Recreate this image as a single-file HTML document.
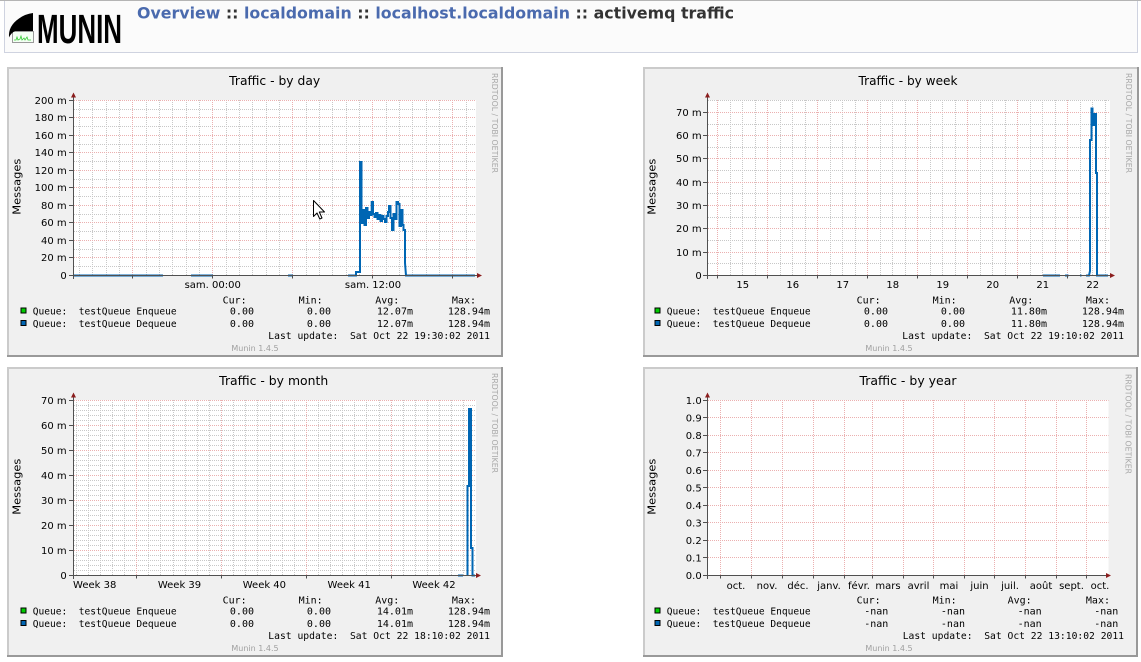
<!DOCTYPE html>
<html><head><meta charset="utf-8"><style>
html,body{margin:0;padding:0;background:#fff;width:1141px;height:662px;overflow:hidden}
svg{display:block}
.t{font-family:"DejaVu Sans","Liberation Sans",sans-serif;fill:#000}
.lab{font-family:"DejaVu Sans","Liberation Sans",sans-serif;font-size:10px;fill:#000}
.m{font-family:"DejaVu Sans Mono","Liberation Mono",monospace;font-size:10px;fill:#000;white-space:pre}
.m text{white-space:pre}
.gm{stroke:#c8c8c8;stroke-width:1;stroke-dasharray:1 1;fill:none}
.gM{stroke:#ebb0b0;stroke-width:1;stroke-dasharray:1 1;fill:none}
.ax{stroke:#505050;stroke-width:1;fill:none}
.ar{fill:#8b1e1e}
.d{stroke:#0066b3;stroke-width:2;fill:none;stroke-linejoin:miter}
.rr{font-family:"DejaVu Sans","Liberation Sans",sans-serif;font-size:8px;fill:#a8a8a8}
.mu{font-family:"DejaVu Sans","Liberation Sans",sans-serif;font-size:8px;fill:#a0a0a0}
</style></head><body>
<svg width="1141" height="662" viewBox="0 0 1141 662" xmlns="http://www.w3.org/2000/svg">
<!-- header -->
<rect x="4.5" y="0.5" width="1133" height="52" fill="#fbfbfb" stroke="#cfd3e0"/>
<line x1="0" y1="0.5" x2="1141" y2="0.5" stroke="#b4b4b4"/>
<rect x="12.5" y="31.5" width="21" height="11" fill="#f4fff4" stroke="#9a9a9a"/>
<polyline points="14,40 16,40 17,37 18,40 20,39 21,36 22,40 24,38 25,40 27,37 28,40 31,40" fill="none" stroke="#33cc33" stroke-width="0.8"/>
<path d="M33,13 L33,31 L15,31 Q11,33 9,37.5 Q8,26 19,18.5 Q25,14 33,13 Z" fill="#000"/>
<text x="37" y="43" font-family="Liberation Sans, DejaVu Sans, sans-serif" font-weight="bold" font-size="41" textLength="85" lengthAdjust="spacingAndGlyphs" fill="#000">MUNIN</text>
<text x="137" y="18.5" font-family="DejaVu Sans, Liberation Sans, sans-serif" font-weight="bold" font-size="16" textLength="597" lengthAdjust="spacingAndGlyphs" style="white-space:pre"><tspan fill="#4a6aae">Overview</tspan><tspan fill="#333"> :: </tspan><tspan fill="#4a6aae">localdomain</tspan><tspan fill="#333"> :: </tspan><tspan fill="#4a6aae">localhost.localdomain</tspan><tspan fill="#333"> :: activemq traffic</tspan></text>

<!-- ================= DAY PANEL ================= -->
<rect x="7" y="67" width="496" height="290" fill="#f0f0f0"/>
<path d="M7 68H503M8 67V357" stroke="#cbcbcb" stroke-width="2"/>
<path d="M7 356H503M502 67V357" stroke="#999" stroke-width="2"/>
<rect x="74" y="100" width="402" height="175.5" fill="#fff"/>
<path class="gm" d="M74 266.5H476M74 249.5H476M74 231.5H476M74 214.5H476M74 196.5H476M74 179.5H476M74 161.5H476M74 144.5H476M74 126.5H476M74 109.5H476"/>
<path class="gm" d="M79.5 100V275M92.5 100V275M106.5 100V275M119.5 100V275M146.5 100V275M159.5 100V275M172.5 100V275M186.5 100V275M199.5 100V275M226.5 100V275M239.5 100V275M252.5 100V275M266.5 100V275M279.5 100V275M306.5 100V275M319.5 100V275M332.5 100V275M346.5 100V275M359.5 100V275M386.5 100V275M399.5 100V275M412.5 100V275M426.5 100V275M439.5 100V275M466.5 100V275"/>
<path class="gM" d="M74 257.5H476M74 240.5H476M74 222.5H476M74 205.5H476M74 187.5H476M74 170.5H476M74 152.5H476M74 135.5H476M74 117.5H476M74 100.5H476"/>
<path class="gM" d="M132.5 100V275M212.5 100V275M292.5 100V275M372.5 100V275M452.5 100V275"/>
<text class="t" x="274.7" y="85" font-size="12" text-anchor="middle" textLength="91" lengthAdjust="spacingAndGlyphs">Traffic - by day</text>
<text class="t" font-size="11" text-anchor="middle" transform="translate(16.7,186.7) rotate(-90)" y="4" textLength="56" lengthAdjust="spacingAndGlyphs">Messages</text>
<text class="rr" text-anchor="middle" transform="translate(495,123) rotate(90)" y="3" textLength="100" lengthAdjust="spacingAndGlyphs">RRDTOOL / TOBI OETIKER</text>
<g class="lab" text-anchor="end">
<text x="66.7" y="279">0</text><text x="66.7" y="261">20 m</text><text x="66.7" y="244">40 m</text><text x="66.7" y="226">60 m</text><text x="66.7" y="209">80 m</text><text x="66.7" y="191">100 m</text><text x="66.7" y="174">120 m</text><text x="66.7" y="156">140 m</text><text x="66.7" y="139">160 m</text><text x="66.7" y="121">180 m</text><text x="66.7" y="104">200 m</text>
</g>
<g class="lab" text-anchor="middle"><text x="212.7" y="288">sam. 00:00</text><text x="373" y="288">sam. 12:00</text></g>
<path class="d" d="M74,275.5 H163 M191,275.5 H213 M288,275.5 H293 M348,275.5 H356 V272 H360 V162 H361.5 V223 H363 V210 H364.5 V225 H366 V208 H367.5 V218 H369 V212 H370.5 V215 H371.7 V202 H373 V214 H374.5 V217 H376 V213 H377.5 V219 H379 V215 H380.5 V221 H382 V216 H383.5 V219 H385 V222 H386.5 V216 H388 V212 H389 V206 H390.5 V218 H392 V230 H393.5 V214 H395 V219 H396.5 V202 H398 V204 H399.5 V226 H401 V210 H402.5 V225 H403.5 V230 H405 V263 L406,275.5 H475"/>
<path class="ax" d="M73.5 279V96M69 275.5H478M69 257.5H73.5M69 240.5H73.5M69 222.5H73.5M69 205.5H73.5M69 187.5H73.5M69 170.5H73.5M69 152.5H73.5M69 135.5H73.5M69 117.5H73.5M69 100.5H73.5M132.5 275.5v3M212.5 275.5v3M292.5 275.5v3M372.5 275.5v3M452.5 275.5v3"/>
<polygon class="ar" points="71,97.5 76,97.5 73.5,92.5"/>
<polygon class="ar" points="477,273 477,278 482,275.5"/>
<polygon points="313.5,200.5 313.5,216.5 317,213 319.8,219 322,218 319.3,212 324.5,212" fill="#fff" stroke="#000" stroke-width="1" stroke-linejoin="round"/>
<!-- legend day -->
<g class="m">
<text x="246.7" y="303.5" text-anchor="end">Cur:</text><text x="322.7" y="303.5" text-anchor="end">Min:</text><text x="399.3" y="303.5" text-anchor="end">Avg:</text><text x="476" y="303.5" text-anchor="end">Max:</text>
<text x="32.7" y="314.5" textLength="144" lengthAdjust="spacingAndGlyphs">Queue:  testQueue Enqueue</text>
<text x="254" y="314.5" text-anchor="end">0.00</text><text x="331" y="314.5" text-anchor="end">0.00</text><text x="413" y="314.5" text-anchor="end">12.07m</text><text x="490" y="314.5" text-anchor="end">128.94m</text>
<text x="32.7" y="327" textLength="144" lengthAdjust="spacingAndGlyphs">Queue:  testQueue Dequeue</text>
<text x="254" y="327" text-anchor="end">0.00</text><text x="331" y="327" text-anchor="end">0.00</text><text x="413" y="327" text-anchor="end">12.07m</text><text x="490" y="327" text-anchor="end">128.94m</text>
<text x="268.3" y="339" textLength="221.7" lengthAdjust="spacingAndGlyphs">Last update:  Sat Oct 22 19:30:02 2011</text>
</g>
<rect x="21" y="308" width="5" height="5" fill="#00cc00" stroke="#000" stroke-width="1"/>
<rect x="21" y="320.5" width="5" height="5" fill="#0066b3" stroke="#000" stroke-width="1"/>
<text class="mu" x="255" y="351" text-anchor="middle">Munin 1.4.5</text>

<!-- ================= WEEK PANEL ================= -->
<rect x="643" y="67" width="496" height="290" fill="#f0f0f0"/>
<path d="M643 68H1139M644 67V357" stroke="#cbcbcb" stroke-width="2"/>
<path d="M643 356H1139M1138 67V357" stroke="#999" stroke-width="2"/>
<rect x="708" y="100" width="402" height="175.5" fill="#fff"/>
<path class="gm" d="M708 263.5H1110M708 240.5H1110M708 217.5H1110M708 193.5H1110M708 170.5H1110M708 147.5H1110M708 124.5H1110M708 100.5H1110"/>
<path class="gm" d="M730.5 100V275M742.5 100V275M755.5 100V275M780.5 100V275M792.5 100V275M805.5 100V275M830.5 100V275M842.5 100V275M855.5 100V275M880.5 100V275M892.5 100V275M905.5 100V275M930.5 100V275M942.5 100V275M955.5 100V275M980.5 100V275M992.5 100V275M1005.5 100V275M1030.5 100V275M1042.5 100V275M1055.5 100V275M1080.5 100V275M1092.5 100V275M1105.5 100V275"/>
<path class="gM" d="M708 252.5H1110M708 228.5H1110M708 205.5H1110M708 182.5H1110M708 158.5H1110M708 135.5H1110M708 112.5H1110"/>
<path class="gM" d="M717.5 100V275M767.5 100V275M817.5 100V275M867.5 100V275M917.5 100V275M967.5 100V275M1017.5 100V275M1067.5 100V275"/>
<text class="t" x="908" y="85" font-size="12" text-anchor="middle" textLength="99" lengthAdjust="spacingAndGlyphs">Traffic - by week</text>
<text class="t" font-size="11" text-anchor="middle" transform="translate(651.7,186.7) rotate(-90)" y="4" textLength="56" lengthAdjust="spacingAndGlyphs">Messages</text>
<text class="rr" text-anchor="middle" transform="translate(1129,123) rotate(90)" y="3" textLength="100" lengthAdjust="spacingAndGlyphs">RRDTOOL / TOBI OETIKER</text>
<g class="lab" text-anchor="end">
<text x="701.7" y="279">0</text><text x="701.7" y="256">10 m</text><text x="701.7" y="232">20 m</text><text x="701.7" y="209">30 m</text><text x="701.7" y="186">40 m</text><text x="701.7" y="162">50 m</text><text x="701.7" y="139">60 m</text><text x="701.7" y="116">70 m</text>
</g>
<g class="lab" text-anchor="middle"><text x="742.7" y="288">15</text><text x="792.7" y="288">16</text><text x="842.7" y="288">17</text><text x="892.7" y="288">18</text><text x="942.7" y="288">19</text><text x="992.7" y="288">20</text><text x="1042.7" y="288">21</text><text x="1092.7" y="288">22</text></g>
<path class="d" d="M1043,275.5 H1060 M1065,275.5 H1068.5 M1080,275.5 H1081.5 M1086,275.5 H1089 L1090,271 V140 H1091.5 V108.5 H1092.5 V120 H1093.5 V125 H1094.5 V114 H1096 V173 H1097 V275.5 H1108"/>
<path class="ax" d="M707.5 279V96M703 275.5H1111M703 252.5H707.5M703 228.5H707.5M703 205.5H707.5M703 182.5H707.5M703 158.5H707.5M703 135.5H707.5M703 112.5H707.5M717.5 275.5v3M767.5 275.5v3M817.5 275.5v3M867.5 275.5v3M917.5 275.5v3M967.5 275.5v3M1017.5 275.5v3M1067.5 275.5v3"/>
<polygon class="ar" points="705,97.5 710,97.5 707.5,92.5"/>
<polygon class="ar" points="1110,273 1110,278 1115,275.5"/>
<g class="m">
<text x="880.7" y="303.5" text-anchor="end">Cur:</text><text x="956.7" y="303.5" text-anchor="end">Min:</text><text x="1033.3" y="303.5" text-anchor="end">Avg:</text><text x="1110" y="303.5" text-anchor="end">Max:</text>
<text x="666.7" y="314.5" textLength="144" lengthAdjust="spacingAndGlyphs">Queue:  testQueue Enqueue</text>
<text x="888" y="314.5" text-anchor="end">0.00</text><text x="965" y="314.5" text-anchor="end">0.00</text><text x="1047" y="314.5" text-anchor="end">11.80m</text><text x="1124" y="314.5" text-anchor="end">128.94m</text>
<text x="666.7" y="327" textLength="144" lengthAdjust="spacingAndGlyphs">Queue:  testQueue Dequeue</text>
<text x="888" y="327" text-anchor="end">0.00</text><text x="965" y="327" text-anchor="end">0.00</text><text x="1047" y="327" text-anchor="end">11.80m</text><text x="1124" y="327" text-anchor="end">128.94m</text>
<text x="902.3" y="339" textLength="221.7" lengthAdjust="spacingAndGlyphs">Last update:  Sat Oct 22 19:10:02 2011</text>
</g>
<rect x="655" y="308" width="5" height="5" fill="#00cc00" stroke="#000" stroke-width="1"/>
<rect x="655" y="320.5" width="5" height="5" fill="#0066b3" stroke="#000" stroke-width="1"/>
<text class="mu" x="889" y="351" text-anchor="middle">Munin 1.4.5</text>

<!-- ================= MONTH PANEL ================= -->
<rect x="7" y="367" width="496" height="290" fill="#f0f0f0"/>
<path d="M7 368H503M8 367V657" stroke="#cbcbcb" stroke-width="2"/>
<path d="M7 656H503M502 367V657" stroke="#999" stroke-width="2"/>
<rect x="74" y="400" width="402" height="175.5" fill="#fff"/>
<path class="gm" d="M74 570.5H476M74 565.5H476M74 560.5H476M74 555.5H476M74 545.5H476M74 540.5H476M74 535.5H476M74 530.5H476M74 520.5H476M74 515.5H476M74 510.5H476M74 505.5H476M74 495.5H476M74 490.5H476M74 485.5H476M74 480.5H476M74 470.5H476M74 465.5H476M74 460.5H476M74 455.5H476M74 445.5H476M74 440.5H476M74 435.5H476M74 430.5H476M74 420.5H476M74 415.5H476M74 410.5H476M74 405.5H476"/>
<path class="gm" d="M76.5 400V575M88.5 400V575M100.5 400V575M112.5 400V575M124.5 400V575M148.5 400V575M160.5 400V575M173.5 400V575M185.5 400V575M197.5 400V575M209.5 400V575M233.5 400V575M245.5 400V575M257.5 400V575M270.5 400V575M282.5 400V575M294.5 400V575M318.5 400V575M330.5 400V575M342.5 400V575M354.5 400V575M366.5 400V575M379.5 400V575M403.5 400V575M415.5 400V575M427.5 400V575M439.5 400V575M451.5 400V575M463.5 400V575"/>
<path class="gM" d="M74 550.5H476M74 525.5H476M74 500.5H476M74 475.5H476M74 450.5H476M74 425.5H476M74 400.5H476"/>
<path class="gM" d="M136.5 400V575M221.5 400V575M306.5 400V575M391.5 400V575"/>
<text class="t" x="273.7" y="385" font-size="12" text-anchor="middle" textLength="109" lengthAdjust="spacingAndGlyphs">Traffic - by month</text>
<text class="t" font-size="11" text-anchor="middle" transform="translate(16.7,486.7) rotate(-90)" y="4" textLength="56" lengthAdjust="spacingAndGlyphs">Messages</text>
<text class="rr" text-anchor="middle" transform="translate(495,423) rotate(90)" y="3" textLength="100" lengthAdjust="spacingAndGlyphs">RRDTOOL / TOBI OETIKER</text>
<g class="lab" text-anchor="end">
<text x="66.7" y="579">0</text><text x="66.7" y="554">10 m</text><text x="66.7" y="529">20 m</text><text x="66.7" y="504">30 m</text><text x="66.7" y="479">40 m</text><text x="66.7" y="454">50 m</text><text x="66.7" y="429">60 m</text><text x="66.7" y="404">70 m</text>
</g>
<g class="lab" text-anchor="middle"><text x="94.7" y="588">Week 38</text><text x="179.5" y="588">Week 39</text><text x="264.4" y="588">Week 40</text><text x="349.2" y="588">Week 41</text><text x="434" y="588">Week 42</text></g>
<path class="d" d="M458,575.5 H463 M467.5,575.5 V486 H469 V409 H471 V548 H472.5 V575.5 H475"/>
<path class="ax" d="M73.5 579V396M69 575.5H477M69 550.5H73.5M69 525.5H73.5M69 500.5H73.5M69 475.5H73.5M69 450.5H73.5M69 425.5H73.5M69 400.5H73.5M136.5 575.5v3M221.5 575.5v3M306.5 575.5v3M391.5 575.5v3"/>
<polygon class="ar" points="71,397.5 76,397.5 73.5,392.5"/>
<polygon class="ar" points="476,573 476,578 481,575.5"/>
<g class="m">
<text x="246.7" y="603.5" text-anchor="end">Cur:</text><text x="322.7" y="603.5" text-anchor="end">Min:</text><text x="399.3" y="603.5" text-anchor="end">Avg:</text><text x="476" y="603.5" text-anchor="end">Max:</text>
<text x="32.7" y="614.5" textLength="144" lengthAdjust="spacingAndGlyphs">Queue:  testQueue Enqueue</text>
<text x="254" y="614.5" text-anchor="end">0.00</text><text x="331" y="614.5" text-anchor="end">0.00</text><text x="413" y="614.5" text-anchor="end">14.01m</text><text x="490" y="614.5" text-anchor="end">128.94m</text>
<text x="32.7" y="627" textLength="144" lengthAdjust="spacingAndGlyphs">Queue:  testQueue Dequeue</text>
<text x="254" y="627" text-anchor="end">0.00</text><text x="331" y="627" text-anchor="end">0.00</text><text x="413" y="627" text-anchor="end">14.01m</text><text x="490" y="627" text-anchor="end">128.94m</text>
<text x="268.3" y="639" textLength="221.7" lengthAdjust="spacingAndGlyphs">Last update:  Sat Oct 22 18:10:02 2011</text>
</g>
<rect x="21" y="608" width="5" height="5" fill="#00cc00" stroke="#000" stroke-width="1"/>
<rect x="21" y="620.5" width="5" height="5" fill="#0066b3" stroke="#000" stroke-width="1"/>
<text class="mu" x="255" y="651" text-anchor="middle">Munin 1.4.5</text>

<!-- ================= YEAR PANEL ================= -->
<rect x="643" y="367" width="495" height="290" fill="#f0f0f0"/>
<path d="M643 368H1138M644 367V657" stroke="#cbcbcb" stroke-width="2"/>
<path d="M643 656H1138M1137 367V657" stroke="#999" stroke-width="2"/>
<rect x="708" y="400" width="400.5" height="175.5" fill="#fff"/>
<path class="gM" d="M708 557.5H1108.5M708 540.5H1108.5M708 522.5H1108.5M708 505.5H1108.5M708 487.5H1108.5M708 470.5H1108.5M708 452.5H1108.5M708 435.5H1108.5M708 417.5H1108.5M708 400.5H1108.5"/>
<path class="gM" d="M720.5 400V575M751.5 400V575M782.5 400V575M813.5 400V575M844.5 400V575M872.5 400V575M903.5 400V575M933.5 400V575M964.5 400V575M994.5 400V575M1025.5 400V575M1056.5 400V575M1086.5 400V575"/>
<text class="t" x="908" y="385" font-size="12" text-anchor="middle" textLength="97" lengthAdjust="spacingAndGlyphs">Traffic - by year</text>
<text class="t" font-size="11" text-anchor="middle" transform="translate(651.7,486.7) rotate(-90)" y="4" textLength="56" lengthAdjust="spacingAndGlyphs">Messages</text>
<text class="rr" text-anchor="middle" transform="translate(1128.5,424) rotate(90)" y="3" textLength="100" lengthAdjust="spacingAndGlyphs">RRDTOOL / TOBI OETIKER</text>
<g class="lab" text-anchor="end">
<text x="701.7" y="579">0.0</text><text x="701.7" y="561.5">0.1</text><text x="701.7" y="544">0.2</text><text x="701.7" y="526.5">0.3</text><text x="701.7" y="509">0.4</text><text x="701.7" y="491.5">0.5</text><text x="701.7" y="474">0.6</text><text x="701.7" y="456.5">0.7</text><text x="701.7" y="439">0.8</text><text x="701.7" y="421.5">0.9</text><text x="701.7" y="404">1.0</text>
</g>
<g class="lab" text-anchor="middle"><text x="736" y="589">oct.</text><text x="767" y="589">nov.</text><text x="798" y="589">déc.</text><text x="829" y="589">janv.</text><text x="859" y="589">févr.</text><text x="888" y="589">mars</text><text x="918.5" y="589">avril</text><text x="949" y="589">mai</text><text x="979.5" y="589">juin</text><text x="1010" y="589">juil.</text><text x="1041" y="589">août</text><text x="1071.5" y="589">sept.</text><text x="1100" y="589">oct.</text></g>
<path class="ax" d="M707.5 579V396M703 575.5H1107M703 557.5H707.5M703 540.5H707.5M703 522.5H707.5M703 505.5H707.5M703 487.5H707.5M703 470.5H707.5M703 452.5H707.5M703 435.5H707.5M703 417.5H707.5M703 400.5H707.5M720.5 575.5v3M751.5 575.5v3M782.5 575.5v3M813.5 575.5v3M844.5 575.5v3M872.5 575.5v3M903.5 575.5v3M933.5 575.5v3M964.5 575.5v3M994.5 575.5v3M1025.5 575.5v3M1056.5 575.5v3M1086.5 575.5v3"/>
<polygon class="ar" points="705,397.5 710,397.5 707.5,392.5"/>
<polygon class="ar" points="1106,573 1106,578 1111,575.5"/>
<g class="m">
<text x="880.7" y="603.5" text-anchor="end">Cur:</text><text x="956.7" y="603.5" text-anchor="end">Min:</text><text x="1031.7" y="603.5" text-anchor="end">Avg:</text><text x="1110" y="603.5" text-anchor="end">Max:</text>
<text x="666.7" y="614.5" textLength="144" lengthAdjust="spacingAndGlyphs">Queue:  testQueue Enqueue</text>
<text x="888.3" y="614.5" text-anchor="end">-nan</text><text x="965" y="614.5" text-anchor="end">-nan</text><text x="1041.7" y="614.5" text-anchor="end">-nan</text><text x="1118.3" y="614.5" text-anchor="end">-nan</text>
<text x="666.7" y="627" textLength="144" lengthAdjust="spacingAndGlyphs">Queue:  testQueue Dequeue</text>
<text x="888.3" y="627" text-anchor="end">-nan</text><text x="965" y="627" text-anchor="end">-nan</text><text x="1041.7" y="627" text-anchor="end">-nan</text><text x="1118.3" y="627" text-anchor="end">-nan</text>
<text x="902.7" y="639" textLength="221.3" lengthAdjust="spacingAndGlyphs">Last update:  Sat Oct 22 13:10:02 2011</text>
</g>
<rect x="655" y="608" width="5" height="5" fill="#00cc00" stroke="#000" stroke-width="1"/>
<rect x="655" y="620.5" width="5" height="5" fill="#0066b3" stroke="#000" stroke-width="1"/>
<text class="mu" x="889" y="651" text-anchor="middle">Munin 1.4.5</text>
</svg>
</body></html>
